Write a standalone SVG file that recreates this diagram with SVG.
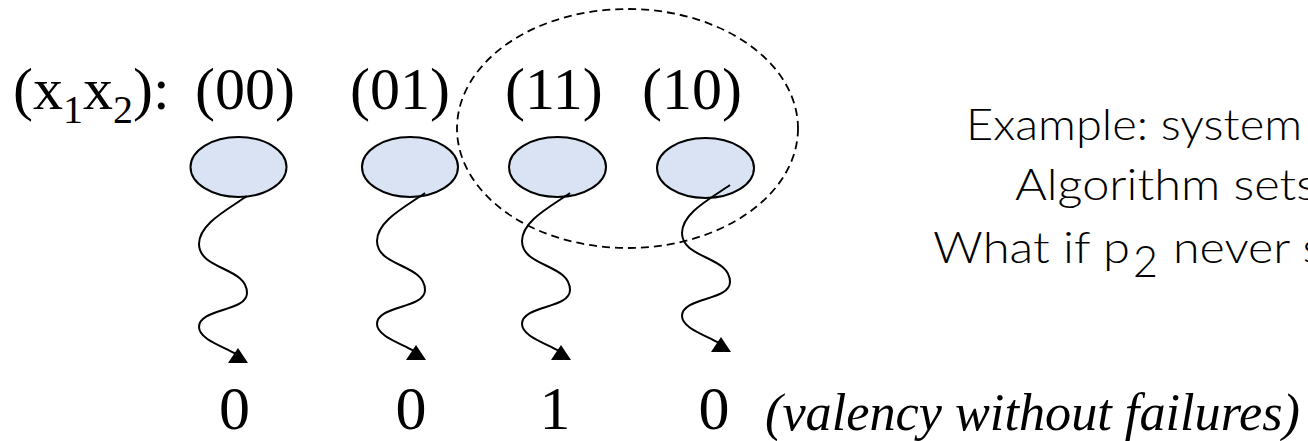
<svg xmlns="http://www.w3.org/2000/svg" width="1308" height="441" viewBox="0 0 1308 441">
<style>
.serif{font-family:"Liberation Serif","Times New Roman",serif;fill:#000}
.lab{font-size:60px}
.out{font-size:62px;text-anchor:middle}
.node{fill:#dae3f3;stroke:#000;stroke-width:2}
.wave{fill:none;stroke:#000;stroke-width:2}
.sans{font-family:Lato,"Open Sans",sans-serif;font-weight:300;font-size:43px;fill:#000}
</style>
<defs>
<marker id="tri" markerUnits="userSpaceOnUse" markerWidth="40" markerHeight="40" refX="10" refY="10" orient="0" overflow="visible">
<path d="M12,4 L2,19 L22,19 Z" fill="#000"/>
</marker>
</defs>
<rect width="1308" height="441" fill="#fff"/>
<text class="serif lab" x="13" y="109">(x<tspan font-size="40" dy="14">1</tspan><tspan dy="-14">x</tspan><tspan font-size="40" dy="14">2</tspan><tspan dy="-14">):</tspan></text>
<g id="node-00">
<text class="serif lab" x="195" y="109">(00)</text>
<ellipse class="node" cx="238.5" cy="167" rx="48" ry="30"/>
</g>
<g id="node-01">
<text class="serif lab" x="350" y="109">(01)</text>
<ellipse class="node" cx="410" cy="167" rx="48" ry="30"/>
</g>
<g id="node-11">
<text class="serif lab" x="505" y="109">(11)</text>
<ellipse class="node" cx="557.5" cy="167" rx="48.5" ry="30"/>
</g>
<g id="node-10">
<text class="serif lab" x="642" y="109">(10)</text>
<ellipse class="node" cx="705.5" cy="168" rx="48.5" ry="30"/>
</g>
<g id="group-bivalent">
<ellipse cx="627.5" cy="128.5" rx="170.5" ry="119.5" fill="none" stroke="#000" stroke-width="1.8" stroke-dasharray="8,5"/>
</g>
<g id="connectors">
<path class="wave" d="M247,196 c-20,14 -48,28 -48,48 c0,26 48,23 48,49 c0,19 -48,15 -48,34 c0,12 23,19 37,27" marker-end="url(#tri)"/>
<path class="wave" d="M425,193 c-20,14 -48,28 -48,48 c0,26 48,23 48,49 c0,19 -48,15 -48,34 c0,12 23,19 37,27" marker-end="url(#tri)"/>
<path class="wave" d="M570,193 c-20,14 -48,28 -48,48 c0,26 48,23 48,49 c0,19 -48,15 -48,34 c0,12 23,19 37,27" marker-end="url(#tri)"/>
<path class="wave" d="M730,185 c-20,14 -48,28 -48,48 c0,26 48,23 48,49 c0,19 -48,15 -48,34 c0,12 23,19 37,27" marker-end="url(#tri)"/>
</g>
<g id="outcomes">
<text class="serif out" x="234.5" y="429">0</text>
<text class="serif out" x="411" y="429">0</text>
<text class="serif out" x="555" y="429">1</text>
<text class="serif out" x="714" y="429">0</text>
<text class="serif" x="765" y="430" font-size="52" font-style="italic" textLength="535" lengthAdjust="spacingAndGlyphs">(valency without failures)</text>
</g>
<g id="note">
<text class="sans" x="966" y="140" textLength="336" lengthAdjust="spacingAndGlyphs">Example: system</text>
<text class="sans" x="1015" y="200" textLength="302" lengthAdjust="spacingAndGlyphs">Algorithm sets</text>
<text class="sans" x="933" y="263" textLength="197" lengthAdjust="spacingAndGlyphs">What if p</text>
<text class="sans" x="1133" y="277" font-size="30">2</text>
<text class="sans" x="1173" y="263" textLength="150" lengthAdjust="spacingAndGlyphs">never s</text>
</g>
</svg>
